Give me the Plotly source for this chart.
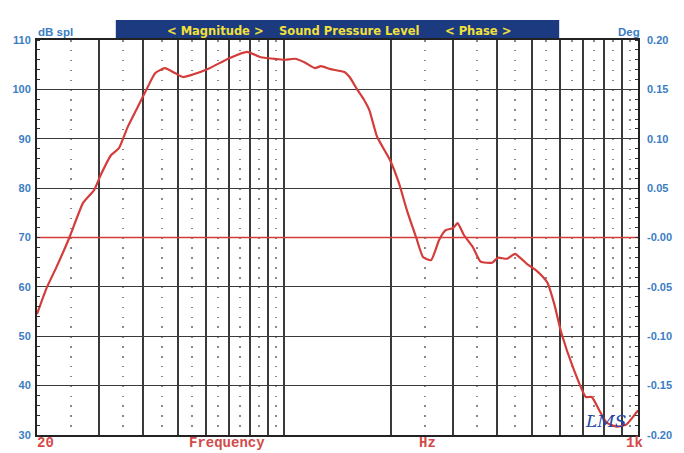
import math
import plotly.graph_objects as go

# ---- data ----
freq = [20, 21.3, 22.7, 24.7, 27.0, 29.0, 30.3, 32.4, 34.1, 36.1, 38.5, 41.0, 43.2, 46.0,
        49.1, 51.7, 55.1, 61.5, 69.9, 78.4, 85.8, 96.3, 100.7, 107, 114, 122, 127, 135,
        148, 153, 161, 168, 174, 183, 199, 211, 222, 236, 247, 260, 274, 286, 300, 309,
        322, 341, 359, 387, 402, 426, 449, 488, 510, 534, 555, 580, 607, 659, 712, 740,
        784, 815, 869, 926, 988, 1000]
spl = [54.5, 59.8, 64.0, 70.0, 77.0, 79.6, 82.7, 86.7, 88.1, 92.4, 96.4, 100.3, 103.3, 104.3,
       103.3, 102.5, 103.0, 104.3, 106.3, 107.6, 106.5, 106.1, 106.0, 106.2, 105.5, 104.3, 104.7, 104.1,
       103.5, 102.5, 99.9, 97.9, 95.8, 90.4, 85.7, 81.0, 75.6, 70.0, 66.0, 65.4, 69.5, 71.5, 71.9, 72.9,
       70.5, 68.1, 65.1, 64.9, 65.9, 65.7, 66.7, 64.5, 63.6, 62.3, 60.8, 56.5, 50.7, 43.2, 37.7, 37.7,
       34.5, 32.5, 31.7, 32.1, 34.5, 35.0]

phase_freq = [20, 1000]
phase_deg = [0.0, 0.0]

x_major = [30, 40, 50, 60, 70, 80, 90, 100, 200, 300, 400, 500, 600, 700, 800, 900]
x_minor = [25, 35, 45, 55, 65, 75, 85, 95, 250, 350, 450, 550, 650, 750, 850, 950]
y_ticks = [30, 40, 50, 60, 70, 80, 90, 100, 110]
y2_ticks = [0.20, 0.15, 0.10, 0.05, 0.0, -0.05, -0.10, -0.15, -0.20]
y2_text = ["0.20", "0.15", "0.10", "0.05", "-0.00", "-0.05", "-0.10", "-0.15", "-0.20"]

RED = "#d43c3a"
BLUE = "#3b7dc4"
GRID = "#3a3a3a"

W, H = 684, 453
L, R, T, B = 35, 39, 40, 18
PW, PH = W - L - R, H - T - B


def px(x):
    return (x - L) / PW


def py(y):
    return (H - B - y) / PH


fig = go.Figure()
fig.add_trace(go.Scatter(x=phase_freq, y=phase_deg, yaxis="y2", mode="lines",
                         line=dict(color=RED, width=1.6), hoverinfo="skip", showlegend=False))
fig.add_trace(go.Scatter(x=freq, y=spl, mode="lines",
                         line=dict(color=RED, width=2.2, shape="spline", smoothing=0.5),
                         showlegend=False))

tickfont = dict(family="Liberation Sans", size=11, color=BLUE, weight="bold")

fig.update_layout(
    width=W, height=H, autosize=False,
    margin=dict(l=L, r=R, t=T, b=B, pad=0),
    paper_bgcolor="white", plot_bgcolor="white",
    xaxis=dict(type="log", range=[math.log10(20), math.log10(1000)],
               tickmode="array", tickvals=x_major, showticklabels=False, ticks="",
               showgrid=True, gridcolor=GRID, gridwidth=1.5,
               showline=True, linecolor="#222", linewidth=2, mirror=True, zeroline=False,
               minor=dict(tickmode="array", tickvals=x_minor, showgrid=True,
                          gridcolor="#8a8a8a", gridwidth=1.6, griddash="1.6px,8.275px", ticks="")),
    yaxis=dict(range=[30, 110], tickmode="array", tickvals=y_ticks,
               showgrid=True, gridcolor=GRID, gridwidth=1.4, zeroline=False,
               showline=True, linecolor="#222", linewidth=2, mirror=True,
               ticks="", tickfont=tickfont, ticklabelstandoff=2,
               minor=dict(dtick=2, ticks="inside", ticklen=3, tickcolor="#333",
                          tickwidth=1, showgrid=False)),
    yaxis2=dict(range=[-0.2, 0.2], overlaying="y", side="right", tickmode="array",
                tickvals=y2_ticks, ticktext=y2_text, showgrid=False, zeroline=False,
                showline=False, ticks="", tickfont=tickfont, ticklabelstandoff=8,
                minor=dict(dtick=0.01, ticks="inside", ticklen=3, tickcolor="#333",
                           tickwidth=1, showgrid=False)),
)

# banner
fig.add_shape(type="rect", xref="paper", yref="paper",
              x0=px(115), x1=px(565), y0=py(39), y1=py(20),
              fillcolor="#1b3a80", line=dict(width=0), layer="below")

ann = []
yellow = dict(family="DejaVu Sans", size=11.5, color="#f2e03a", weight="bold")
for txt, cx in [("< Magnitude >", 216), ("Sound Pressure Level", 352), ("< Phase >", 483)]:
    ann.append(dict(text=txt, x=px(cx), y=py(31), font=yellow))

ann.append(dict(text="dB spl", x=px(54), y=py(32),
                font=dict(family="Liberation Sans", size=11.5, color=BLUE, weight="bold")))
ann.append(dict(text="Deg", x=px(636), y=py(32),
                font=dict(family="Liberation Sans", size=11.5, color=BLUE, weight="bold")))

mono = dict(family="Liberation Mono", size=14, color="#d24a4a", weight="bold")
ann.append(dict(text="20", x=px(44), y=py(443), font=mono))
ann.append(dict(text="Frequency", x=px(228), y=py(443), font=mono))
ann.append(dict(text="Hz", x=px(431), y=py(443), font=mono))
ann.append(dict(text="1k", x=px(641), y=py(443), font=mono))
ann.append(dict(text="LMS", x=px(612), y=py(421),
                font=dict(family="DejaVu Serif", size=17, color="#2444a8", style="italic")))

for a in ann:
    a.update(xref="paper", yref="paper", showarrow=False, xanchor="center", yanchor="middle")
fig.update_layout(annotations=ann)

fig.write_html("out.html", config={"displayModeBar": False},
               post_script="document.body.style.margin='0';document.body.style.padding='0';")
